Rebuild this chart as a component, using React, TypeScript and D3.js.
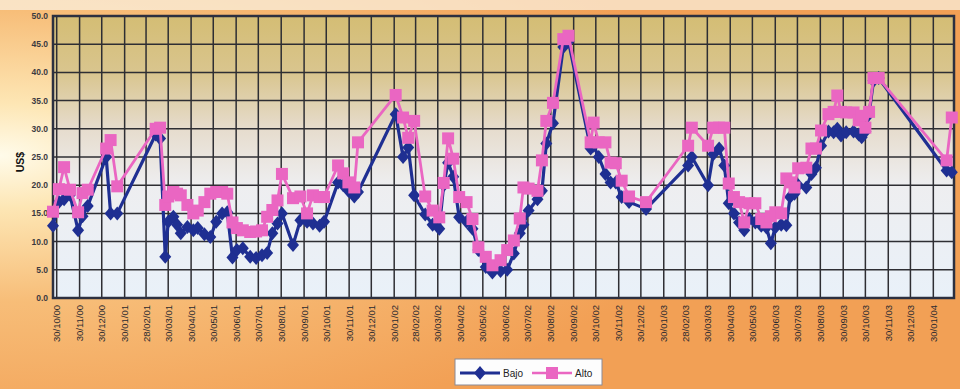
import React from "react";
import * as d3 from "d3";

const dates: string[] = [
  "2000-10-25","2000-11-02","2000-11-09","2000-11-17","2000-11-28","2000-12-04","2000-12-11","2001-01-05","2001-01-11","2001-01-20",
  "2001-03-13","2001-03-19","2001-03-26","2001-03-30","2001-04-06","2001-04-11","2001-04-16","2001-04-25","2001-05-03","2001-05-09",
  "2001-05-18","2001-05-26","2001-06-03","2001-06-11","2001-06-18","2001-06-25","2001-07-01","2001-07-09","2001-07-19","2001-07-27",
  "2001-08-04","2001-08-11","2001-08-18","2001-08-25","2001-08-31","2001-09-15","2001-09-25","2001-10-04","2001-10-12","2001-10-21",
  "2001-10-27","2001-11-15","2001-11-22","2001-11-29","2001-12-07","2001-12-12","2002-02-01","2002-02-11","2002-02-18","2002-02-26",
  "2002-03-13","2002-03-23","2002-04-01","2002-04-07","2002-04-13","2002-04-20","2002-04-28","2002-05-08","2002-05-16","2002-05-24",
  "2002-06-03","2002-06-12","2002-06-23","2002-07-02","2002-07-11","2002-07-19","2002-07-24","2002-07-31","2002-08-12","2002-08-18",
  "2002-08-24","2002-09-02","2002-09-16","2002-09-23","2002-10-23","2002-10-27","2002-11-03","2002-11-12","2002-11-19","2002-11-26",
  "2002-12-04","2002-12-14","2003-01-06","2003-03-04","2003-03-09","2003-03-31","2003-04-07","2003-04-15","2003-04-22","2003-04-28",
  "2003-05-05","2003-05-12","2003-05-19","2003-05-26","2003-06-03","2003-06-11","2003-06-18","2003-06-24","2003-06-30","2003-07-08",
  "2003-07-15","2003-07-20","2003-07-26","2003-07-31","2003-08-11","2003-08-18","2003-08-24","2003-08-31","2003-09-10","2003-09-17",
  "2003-09-22","2003-09-27","2003-10-04","2003-10-14","2003-10-21","2003-10-25","2003-10-30","2003-11-04","2003-11-10","2003-11-17",
  "2004-02-17","2004-02-24",
];

const bajo: number[] = [
  12.8,17.0,17.5,18.3,12.0,14.5,16.3,25.0,15.0,15.0,
  29.0,28.3,7.3,13.5,14.4,13.0,11.5,12.6,12.0,12.4,
  11.3,10.8,13.5,15.0,15.2,7.2,8.5,8.8,7.3,7.1,
  7.6,8.0,11.5,13.2,15.0,9.4,13.8,13.5,13.2,12.8,
  13.5,20.5,20.0,19.0,18.0,18.8,32.6,25.0,26.7,18.2,
  14.8,13.0,12.3,20.0,24.0,21.5,14.3,13.5,12.3,8.5,
  5.5,4.5,4.8,5.0,7.9,11.5,13.0,15.5,17.5,19.0,
  27.4,31.0,44.5,45.5,26.5,27.0,25.0,22.0,20.5,20.5,
  17.9,17.0,15.8,23.5,25.0,20.0,25.5,26.5,23.5,16.8,
  15.0,13.4,12.0,14.0,13.4,12.8,12.5,9.7,12.5,13.0,
  12.9,17.9,18.5,20.0,19.6,22.0,23.1,27.0,29.5,29.4,
  30.0,28.8,29.4,29.5,29.0,28.5,29.5,32.6,38.5,39.0,
  22.6,22.3,
];

const alto: number[] = [
  15.3,19.3,23.2,19.2,15.2,18.6,19.2,26.5,28.0,19.8,
  30.0,30.2,16.5,18.0,18.8,18.5,18.2,16.5,15.0,15.5,
  17.0,18.5,18.8,18.8,18.5,13.4,12.4,12.0,11.7,11.8,
  12.0,14.4,15.6,17.3,22.0,17.7,18.0,15.0,18.2,17.9,
  17.9,23.5,22.1,20.5,19.6,27.6,36.0,32.0,28.4,31.4,
  18.0,15.5,14.3,20.4,28.3,24.7,17.9,17.0,14.0,9.0,
  7.3,5.8,6.7,8.5,10.2,14.1,19.6,19.4,19.0,24.4,
  31.4,34.6,45.9,46.5,27.6,31.1,27.6,27.6,24.0,23.9,
  20.8,18.0,17.0,27.0,30.2,27.0,30.2,30.2,30.2,20.3,
  17.9,17.0,13.4,16.8,16.8,14.0,13.4,14.5,15.2,15.0,
  21.2,20.5,19.6,23.0,23.1,26.5,26.5,29.7,32.6,33.0,
  35.9,33.0,32.9,32.9,31.5,32.3,30.2,33.0,39.0,39.0,
  24.4,32.0,
];

const yTicks: number[] = [0, 5, 10, 15, 20, 25, 30, 35, 40, 45, 50];
const seriesNames: string[] = ["Bajo", "Alto"];
const yTitle = "US$";

const W = 960;
const H = 389;
const left = 53, right = 954, top = 16, bottom = 298;
const BLUE = "#1f2f92";
const PINK = "#ea66c2";

const parse = d3.timeParse("%Y-%m-%d");

export default function App() {
  const x = d3
    .scaleTime()
    .domain([new Date(2000, 9, 25), new Date(2004, 1, 27)])
    .range([left, right]);
  const y = d3.scaleLinear().domain([0, 50]).range([bottom, top]);

  const pts = dates.map((d, i) => ({ date: parse(d) as Date, b: bajo[i], a: alto[i] }));

  // monthly ticks on the 30th (clamped to month end)
  const ticks: Date[] = [];
  for (let k = 0; k < 40; k++) {
    const m = 9 + k;
    const yr = 2000 + Math.floor(m / 12);
    const mo = m % 12;
    const dim = new Date(yr, mo + 1, 0).getDate();
    ticks.push(new Date(yr, mo, Math.min(30, dim)));
  }
  const fmt = d3.timeFormat("%d/%m/%y");

  const lineB = d3
    .line<any>()
    .x((d) => x(d.date))
    .y((d) => y(d.b));
  const lineA = d3
    .line<any>()
    .x((d) => x(d.date))
    .y((d) => y(d.a));

  const font = "'Liberation Sans', Arial, sans-serif";
  const diamond = "M0,-7L6,0L0,7L-6,0Z";
  const sq = 12;

  return (
    <svg width={W} height={H} style={{ display: "block", position: "absolute", left: 0, top: 0 }}>
      <defs>
        <radialGradient id="bg" cx="0" cy="0.4" r="0.75" fx="0" fy="0.4">
          <stop offset="0" stopColor="#fffbea" />
          <stop offset="0.18" stopColor="#fde6b4" />
          <stop offset="0.5" stopColor="#f7bd78" />
          <stop offset="1" stopColor="#f2a055" />
        </radialGradient>
        <linearGradient id="plotbg" x1="0" y1="0" x2="0" y2="1">
          <stop offset="0" stopColor="#d4bd74" />
          <stop offset="0.2" stopColor="#d9c58e" />
          <stop offset="0.4" stopColor="#e6dccd" />
          <stop offset="0.6" stopColor="#eeeef0" />
          <stop offset="1" stopColor="#e9f1f9" />
        </linearGradient>
      </defs>
      <rect x={0} y={0} width={W} height={H} fill="url(#bg)" />
      <rect x={0} y={0} width={W} height={10} fill="#fbf4e6" opacity={0.7} />
      <rect x={left} y={top} width={right - left} height={bottom - top} fill="url(#plotbg)" />

      {/* horizontal grid */}
      {yTicks.map((t) => (
        <line key={"h" + t} x1={left} x2={right} y1={y(t)} y2={y(t)} stroke="#2e2e33" strokeWidth={1.5} />
      ))}
      {/* vertical grid */}
      {ticks.map((t, i) => (
        <line key={"v" + i} x1={x(t)} x2={x(t)} y1={top} y2={bottom} stroke="#2e2e33" strokeWidth={1.5} />
      ))}
      <rect x={left} y={top} width={right - left} height={bottom - top} fill="none" stroke="#2c3040" strokeWidth={2.5} />

      {/* y axis labels */}
      {yTicks.map((t) => (
        <text
          key={"yl" + t}
          x={left - 5}
          y={y(t)}
          dy="0.35em"
          textAnchor="end"
          fontFamily={font}
          fontWeight="bold"
          fontSize={8.5}
          fill="#3a3a40"
        >
          {t.toFixed(1)}
        </text>
      ))}
      <text
        transform={`translate(24,${(top + bottom) / 2 + 5}) rotate(-90)`}
        textAnchor="middle"
        fontFamily={font}
        fontWeight="bold"
        fontSize={10.5}
        fill="#111"
      >
        {yTitle}
      </text>

      {/* x axis labels */}
      {ticks.map((t, i) => (
        <text
          key={"xl" + i}
          transform={`translate(${x(t) + 3.5},${bottom + 7}) rotate(-90)`}
          textAnchor="end"
          fontFamily={font}
          fontSize={9.5}
          fill="#2a2a30"
        >
          {fmt(t)}
        </text>
      ))}

      {/* Bajo */}
      <path d={lineB(pts) || ""} fill="none" stroke={BLUE} strokeWidth={3.2} strokeLinejoin="round" />
      {pts.map((p, i) => (
        <path key={"b" + i} d={diamond} transform={`translate(${x(p.date)},${y(p.b)})`} fill={BLUE} />
      ))}
      {/* Alto */}
      <path d={lineA(pts) || ""} fill="none" stroke={PINK} strokeWidth={2.8} strokeLinejoin="round" />
      {pts.map((p, i) => (
        <rect key={"a" + i} x={x(p.date) - sq / 2} y={y(p.a) - sq / 2} width={sq} height={sq} fill={PINK} />
      ))}

      {/* legend */}
      <rect x={455} y={359} width={147} height={26} fill="#fdfdfd" stroke="#8a8a96" strokeWidth={1} />
      <line x1={460} x2={500} y1={373} y2={373} stroke={BLUE} strokeWidth={3} />
      <path d={diamond} transform="translate(480,373)" fill={BLUE} />
      <text x={503} y={376.5} fontFamily={font} fontSize={10} fill="#222">
        {seriesNames[0]}
      </text>
      <line x1={532} x2={572} y1={373} y2={373} stroke={PINK} strokeWidth={2.5} />
      <rect x={552 - sq / 2} y={373 - sq / 2} width={sq} height={sq} fill={PINK} />
      <text x={575} y={376.5} fontFamily={font} fontSize={10} fill="#222">
        {seriesNames[1]}
      </text>
    </svg>
  );
}
